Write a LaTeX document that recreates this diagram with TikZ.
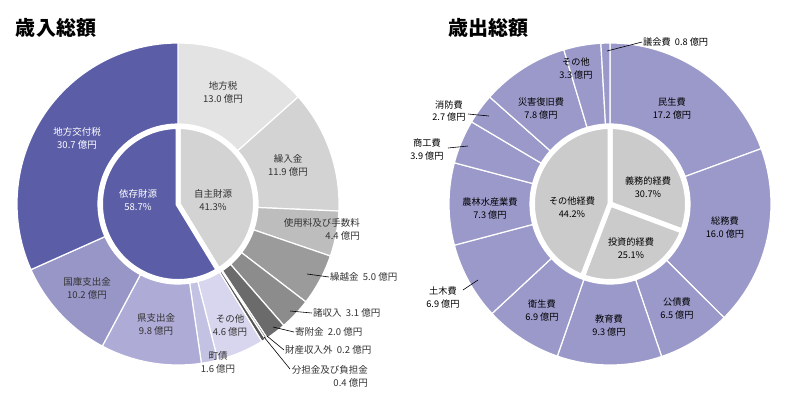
\documentclass[tikz,border=0pt]{standalone}
\usepackage{fontspec}
\newfontfamily\jp{Noto Sans CJK JP}
\definecolor{lgA}{HTML}{E3E3E3}
\definecolor{lgB}{HTML}{D3D3D3}
\definecolor{lgC}{HTML}{BDBDBD}
\definecolor{lgD}{HTML}{9B9B9B}
\definecolor{lgE}{HTML}{8C8C8C}
\definecolor{lgF}{HTML}{6B6B6B}
\definecolor{lgG}{HTML}{5E5E5E}
\definecolor{lgH}{HTML}{555555}
\definecolor{pA}{HTML}{D8D6EE}
\definecolor{pB}{HTML}{C4C2E2}
\definecolor{pC}{HTML}{AEABD6}
\definecolor{pD}{HTML}{9896C6}
\definecolor{pE}{HTML}{5B5EA7}
\definecolor{rp}{HTML}{9B99CA}
\definecolor{rg}{HTML}{CBCBCB}
\definecolor{txtgray}{HTML}{333333}
\newcommand\ringseg[3]{%
  \filldraw[fill=#3, segline] (#1:80pt) -- (#1:161pt) arc[start angle=#1, end angle=#2, radius=161pt] -- (#2:80pt) arc[start angle=#2, end angle=#1, radius=80pt] -- cycle;}
\newcommand\coreslice[3]{%
  \filldraw[fill=#3, coreline] (0,0) -- (#1:77.5pt) arc[start angle=#1, end angle=#2, radius=77.5pt] -- cycle;}
\begin{document}
\begin{tikzpicture}[x=1pt,y=1pt,
  segline/.style={draw=white, line width=1.2pt, line join=round},
  coreline/.style={draw=white, line width=5pt, line join=round},
  title/.style={font=\jp\bfseries\fontsize{20}{22}\selectfont, text=black, inner sep=0pt},
  lbl/.style={font=\jp\fontsize{9.5}{13}\selectfont, text=txtgray, align=center, inner sep=1pt},
  rlbl/.style={font=\jp\fontsize{9.2}{13}\selectfont, text=black, align=center, inner sep=1pt},
  wlbl/.style={lbl, text=white},
  leader/.style={draw=black, line width=0.6pt}]
\useasboundingbox (0,0) rectangle (791,-407);
\fill[white] (0,0) rectangle (791,-407);

% ---------- left chart ----------
\begin{scope}[shift={(178,-204)}]
\ringseg{90}{41.703}{lgA}
\ringseg{41.703}{-2.508}{lgB}
\ringseg{-2.508}{-18.855}{lgC}
\ringseg{-18.855}{-37.430}{lgD}
\ringseg{-37.430}{-48.947}{lgE}
\ringseg{-48.947}{-56.378}{lgF}
\ringseg{-56.378}{-57.121}{lgG}
\ringseg{-57.121}{-58.607}{lgH}
\ringseg{-58.607}{-75.697}{pA}
\ringseg{-75.697}{-81.641}{pB}
\ringseg{-81.641}{-118.050}{pC}
\ringseg{-118.050}{-155.945}{pD}
\ringseg{-155.945}{-270}{pE}
\coreslice{90}{-58.607}{lgB}
\coreslice{-58.607}{-270}{pE}
\end{scope}

% ---------- right chart ----------
\begin{scope}[shift={(610,-204)}]
\ringseg{90}{20.113}{rp}
\ringseg{20.113}{-44.898}{rp}
\ringseg{-44.898}{-71.309}{rp}
\ringseg{-71.309}{-109.097}{rp}
\ringseg{-109.097}{-137.133}{rp}
\ringseg{-137.133}{-165.169}{rp}
\ringseg{-165.169}{-194.830}{rp}
\ringseg{-194.830}{-210.676}{rp}
\ringseg{-210.676}{-221.647}{rp}
\ringseg{-221.647}{-253.340}{rp}
\ringseg{-253.340}{-266.749}{rp}
\ringseg{-266.749}{-270}{rp}
\coreslice{90}{-20.52}{rg}
\coreslice{-20.52}{-110.88}{rg}
\coreslice{-110.88}{-270}{rg}
\end{scope}

% ---------- titles ----------
\node[title] (t1) at (56,-28) {歳入総額};
\node[title] (t2) at (488,-28) {歳出総額};

% ---------- left labels ----------
\node[lbl] (chihozei) at (223,-92.5) {地方税\\13.0 億円};
\node[lbl] (kuriire) at (288,-165) {繰入金\\11.9 億円};
\node[wlbl] (kofuzei) at (77,-138.5) {地方交付税\\30.7 億円};
\node[wlbl] (izon) at (138,-200) {依存財源\\58.7\%};
\node[lbl] (jishu) at (213,-200) {自主財源\\41.3\%};
\node[lbl, anchor=east, align=right] (shiyo) at (361,-229.5) {使用料及び手数料\\4.4 億円};
\node[lbl, anchor=west] (kurikoshi) at (329,-277) {繰越金\ \ 5.0 億円};
\node[lbl, anchor=west] (shoshu) at (312,-313) {諸収入\ \ 3.1 億円};
\node[lbl, anchor=west] (kifu) at (294,-332) {寄附金\ \ 2.0 億円};
\node[lbl, anchor=west] (zaisan) at (284,-350) {財産収入外\ \ 0.2 億円};
\node[lbl, anchor=east, align=right] (buntan) at (369,-376) {分担金及び負担金\\0.4 億円};
\node[lbl] (lsonota) at (230,-325.5) {その他\\4.6 億円};
\node[lbl] (chosai) at (218,-362.5) {町債\\1.6 億円};
\node[lbl] (ken) at (156,-324.5) {県支出金\\9.8 億円};
\node[lbl] (kokko) at (87,-288.5) {国庫支出金\\10.2 億円};

\coordinate (kurikoshiP) at (307,-274);
\coordinate (shoshuP) at (290,-311);
\coordinate (kifuP) at (273,-327);
\coordinate (zaisanP) at (267,-336);
\coordinate (buntanP) at (264,-337);
\coordinate (buntanE) at (290,-369);
\draw[leader] (kurikoshiP) -- (kurikoshi.west);
\draw[leader] (shoshuP) -- (shoshu.west);
\draw[leader] (kifuP) -- (kifu.west);
\draw[leader] (zaisanP) -- (zaisan.west);
\draw[leader] (buntanP) -- (buntanE);

% ---------- right labels ----------
\node[rlbl, anchor=west] (gikai) at (642,-42) {議会費\ \ 0.8 億円};
\node[rlbl] (rsonota) at (576,-69) {その他\\3.3 億円};
\node[rlbl] (minsei) at (672,-109) {民生費\\17.2 億円};
\node[rlbl] (saigai) at (541,-108.5) {災害復旧費\\7.8 億円};
\node[rlbl] (shobo) at (449,-111) {消防費\\2.7 億円};
\node[rlbl] (shoko) at (427,-149.5) {商工費\\3.9 億円};
\node[rlbl] (gimu) at (648,-187.5) {義務的経費\\30.7\%};
\node[rlbl] (sonotakeihi) at (572,-207) {その他経費\\44.2\%};
\node[rlbl] (norin) at (490,-208) {農林水産業費\\7.3 億円};
\node[rlbl] (somu) at (725,-227.5) {総務費\\16.0 億円};
\node[rlbl] (toshi) at (631,-248.5) {投資的経費\\25.1\%};
\node[rlbl] (doboku) at (443,-298) {土木費\\6.9 億円};
\node[rlbl] (eisei) at (542,-310) {衛生費\\6.9 億円};
\node[rlbl] (kyoiku) at (609,-325.5) {教育費\\9.3 億円};
\node[rlbl] (kosai) at (677,-309) {公債費\\6.5 億円};

\coordinate (gikaiP) at (607,-51);
\coordinate (shoboP) at (489,-116);
\coordinate (shoboE) at (468,-114);
\coordinate (shokoP) at (468,-146);
\coordinate (shokoE) at (448,-148);
\coordinate (dobokuP) at (478,-280);
\coordinate (dobokuE) at (463,-290);
\draw[leader] (gikaiP) -- (gikai.west);
\draw[leader] (shoboP) -- (shoboE);
\draw[leader] (shokoP) -- (shokoE);
\draw[leader] (dobokuP) -- (dobokuE);
\end{tikzpicture}
\end{document}
